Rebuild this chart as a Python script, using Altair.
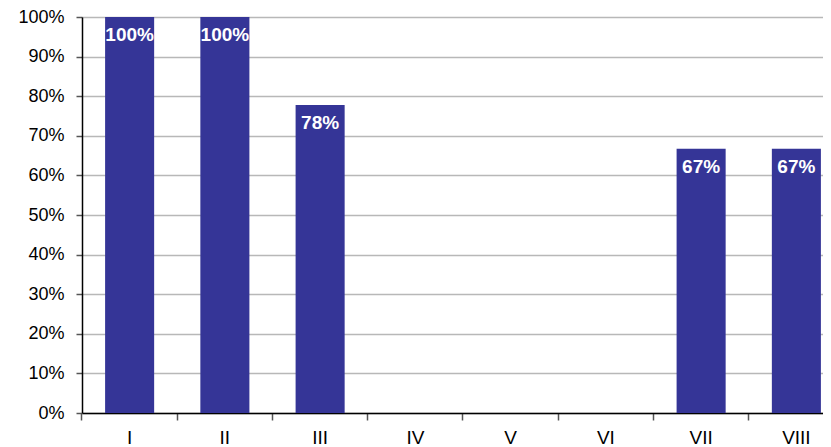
import altair as alt
import pandas as pd

categories = ["I", "II", "III", "IV", "V", "VI", "VII", "VIII"]
values = [1.0, 1.0, 0.778, 0.0, 0.0, 0.0, 0.667, 0.667]

df = pd.DataFrame({"cat": categories, "val": values})

FONT = "Liberation Sans"

x = alt.X(
    "cat:N",
    sort=categories,
    title=None,
    scale=alt.Scale(range=[0, 762], paddingInner=0.485, paddingOuter=0.2425),
    axis=alt.Axis(
        labelAngle=0,
        labelFont=FONT,
        labelFontSize=19,
        labelColor="#000000",
        labelPadding=8,
        tickSize=7,
        tickColor="#555555",
        tickWidth=1.5,
        bandPosition=-0.471,
        domainColor="#000000",
        domainWidth=1.5,
        grid=False,
    ),
)
y = alt.Y(
    "val:Q",
    title=None,
    scale=alt.Scale(domain=[0, 1], nice=False),
    axis=alt.Axis(
        format=".0%",
        values=[i / 10 for i in range(11)],
        labelFont=FONT,
        labelFontSize=18,
        labelColor="#000000",
        labelPadding=12,
        tickSize=6,
        tickColor="#555555",
        tickWidth=1.5,
        domainColor="#000000",
        domainWidth=1.5,
        gridColor="#b8b8b8",
        gridWidth=1.5,
    ),
)

bars = alt.Chart(df).mark_bar(color="#353597").encode(x=x, y=y)

labels = (
    alt.Chart(df)
    .transform_filter("datum.val > 0")
    .mark_text(
        color="white",
        font=FONT,
        fontSize=19,
        fontWeight="bold",
        baseline="middle",
        dy=18,
    )
    .encode(x=x, y=y, text=alt.Text("val:Q", format=".0%"))
)

chart = (
    alt.layer(bars, labels)
    .properties(
        width=741,
        height=396,
        autosize=alt.AutoSizeParams(type="none"),
        padding={"left": 74, "top": 9, "right": 0, "bottom": 34},
    )
    .configure_view(stroke=None)
    .configure(background="white")
)

chart.save("out.html", embed_options={"renderer": "svg", "actions": False})
